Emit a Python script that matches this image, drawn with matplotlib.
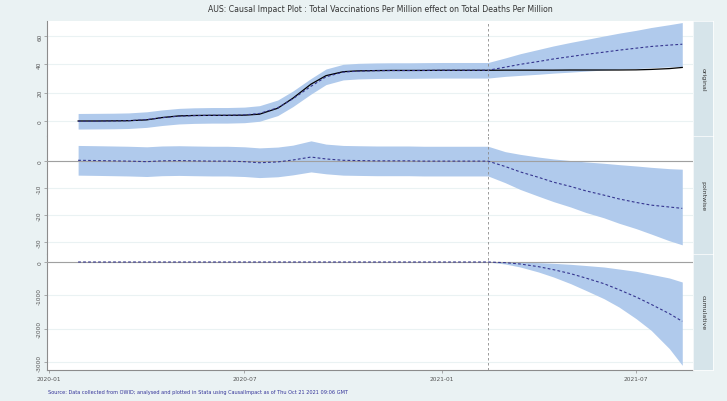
#!/usr/bin/env python

import numpy as np
import pandas as pd
import matplotlib
matplotlib.use('Agg')
from matplotlib import pyplot as plt
import matplotlib.dates as mdates

# semi-monthly points
dates = ['2020-01-28', '2020-02-15', '2020-03-01', '2020-03-15', '2020-04-01', '2020-04-15',
         '2020-05-01', '2020-05-15', '2020-06-01', '2020-06-15', '2020-07-01', '2020-07-15',
         '2020-08-01', '2020-08-15', '2020-09-01', '2020-09-15', '2020-10-01', '2020-10-15',
         '2020-11-01', '2020-11-15', '2020-12-01', '2020-12-15', '2021-01-01', '2021-01-15',
         '2021-02-01', '2021-02-13', '2021-03-01', '2021-03-15', '2021-04-01', '2021-04-15',
         '2021-05-01', '2021-05-15', '2021-06-01', '2021-06-15', '2021-07-01', '2021-07-15',
         '2021-08-01', '2021-08-13']
intervention = '2021-02-13'

# original: total deaths per million
actual = [0.0, 0.0, 0.1, 0.2, 0.8, 2.4, 3.6, 3.9, 4.0, 4.0, 4.1, 4.8,
          9.0, 16.0, 26.0, 32.0, 34.8, 35.4, 35.6, 35.7, 35.7, 35.7, 35.8, 35.8,
          35.8, 35.8, 35.9, 35.9, 35.9, 35.9, 36.0, 36.0, 36.0, 36.0, 36.1, 36.4,
          37.0, 37.8]
predicted = [-0.2, -0.1, 0.0, 0.2, 1.0, 2.3, 3.4, 3.8, 4.0, 4.0, 4.3, 5.3,
             9.3, 15.6, 24.5, 31.2, 34.5, 35.2, 35.5, 35.6, 35.6, 35.7, 35.8, 35.8,
             35.8, 35.8, 38.0, 40.0, 42.0, 43.8, 45.5, 47.0, 48.6, 50.0, 51.4, 52.6,
             53.6, 54.2]
pred_upper = [5.3, 5.4, 5.5, 5.7, 6.5, 7.8, 8.9, 9.3, 9.5, 9.5, 9.8, 10.8,
              14.8, 21.1, 30.0, 36.7, 40.0, 40.7, 41.0, 41.1, 41.1, 41.2, 41.3, 41.3,
              41.3, 41.3, 44.5, 47.5, 50.5, 53.0, 55.5, 57.5, 60.0, 62.0, 64.0, 66.0,
              68.0, 69.5]
pred_lower = [-5.7, -5.6, -5.5, -5.3, -4.5, -3.2, -2.1, -1.7, -1.5, -1.5, -1.2, -0.2,
              3.8, 10.1, 19.0, 25.7, 29.0, 29.7, 30.0, 30.1, 30.1, 30.2, 30.3, 30.3,
              30.3, 30.3, 31.5, 32.2, 33.0, 33.8, 34.5, 35.2, 36.0, 36.5, 37.0, 37.6,
              38.2, 38.5]

# pointwise effect
point = [0.3, 0.2, 0.1, 0.0, -0.2, 0.1, 0.2, 0.1, 0.0, 0.0, -0.2, -0.6,
         -0.3, 0.4, 1.5, 0.8, 0.3, 0.2, 0.1, 0.1, 0.1, 0.0, 0.0, 0.0,
         0.0, 0.0, -2.0, -4.0, -6.0, -7.8, -9.4, -11.0, -12.6, -14.0, -15.3, -16.3,
         -17.0, -17.5]
point_upper = [5.8, 5.7, 5.6, 5.5, 5.3, 5.6, 5.7, 5.6, 5.5, 5.5, 5.3, 4.9,
               5.2, 5.9, 7.5, 6.3, 5.8, 5.7, 5.6, 5.6, 5.6, 5.5, 5.5, 5.5,
               5.5, 5.5, 3.5, 2.5, 1.5, 0.8, 0.2, -0.3, -0.8, -1.3, -1.8, -2.3,
               -2.8, -3.0]
point_lower = [-5.2, -5.3, -5.4, -5.5, -5.7, -5.4, -5.3, -5.4, -5.5, -5.5, -5.7, -6.1,
               -5.8, -5.1, -4.0, -4.7, -5.2, -5.3, -5.4, -5.4, -5.4, -5.5, -5.5, -5.5,
               -5.5, -5.5, -8.0, -10.5, -13.0, -15.0, -17.0, -19.0, -21.0, -23.0, -25.0, -27.0,
               -29.5, -31.0]

# cumulative effect
cum = [0] * 26 + [-20, -60, -140, -230, -350, -480, -650, -830, -1050, -1270, -1550, -1780]
cum_upper = [0] * 26 + [0, -5, -20, -40, -70, -105, -150, -210, -280, -370, -480, -600]
cum_lower = [0] * 26 + [-60, -150, -300, -450, -650, -850, -1100, -1350, -1700, -2050, -2600, -3100]

yticks_orig = [0, 20, 40, 60]
yticks_point = [0, -10, -20, -30]
yticks_cum = [0, -1000, -2000, -3000]
xtick_labels = ['2020-01', '2020-07', '2021-01', '2021-07']

title = 'AUS: Causal Impact Plot : Total Vaccinations Per Million effect on Total Deaths Per Million'
note = ('Source: Data collected from OWID; analysed and plotted in Stata using CausalImpact '
        'as of Thu Oct 21 2021 09:06 GMT')

bg = '#EAF2F3'
band = '#B0CAEC'
navy = '#35358F'
axcol = '#8C8C8C'

x = pd.to_datetime(dates)
t0 = pd.Timestamp(intervention)

fig = plt.figure(figsize=(7.27, 4.02), dpi=100, facecolor=bg)
left, right = 47 / 727, 693 / 727
tops = [22, 137, 255]
bots = [137, 255, 371]

panels = [
    ('original', actual, predicted, pred_upper, pred_lower, yticks_orig, (-10.6, 70.6)),
    ('pointwise', None, point, point_upper, point_lower, yticks_point, (-34.4, 9.3)),
    ('cumulative', None, cum, cum_upper, cum_lower, yticks_cum, (-3240, 240)),
]

axes = []
for i, (name, act, mid, up, lo, yt, ylim) in enumerate(panels):
    b = 1 - bots[i] / 402
    h = (bots[i] - tops[i]) / 402
    ax = fig.add_axes([left, b, right - left, h], facecolor='white')
    ax.fill_between(x, lo, up, color=band, lw=0, zorder=2)
    for v in yt:
        ax.axhline(v, color=bg, lw=0.8, zorder=1)
    if act is not None:
        ax.plot(x, act, color='black', lw=0.9, zorder=4)
    else:
        ax.axhline(0, color='#A0A0A0', lw=0.8, zorder=3)
    ax.plot(x, mid, color=navy, lw=0.8, ls=(0, (2.5, 2)), zorder=5)
    ax.axvline(t0, color='#8A8A8A', lw=0.6, ls=(0, (3, 3)), zorder=6)
    ax.set_ylim(*ylim)
    ax.set_yticks(yt)
    ax.set_yticklabels([str(v) for v in yt], rotation=90, va='center', fontsize=4.2, color='#555555')
    ax.tick_params(axis='y', length=2, width=0.5, color=axcol, pad=1.5)
    ax.set_xlim(pd.Timestamp('2019-12-30'), pd.Timestamp('2021-08-23'))
    for s in ['top', 'right']:
        ax.spines[s].set_visible(False)
    ax.spines['left'].set_color(axcol)
    ax.spines['left'].set_linewidth(0.8)
    ax.spines['bottom'].set_color('#DDDDDD')
    ax.spines['bottom'].set_linewidth(0.5)
    # strip label on the right
    sax = fig.add_axes([right, b, 20 / 727, h], facecolor='#D6E4EA')
    sax.set_xticks([])
    sax.set_yticks([])
    for s in sax.spines.values():
        s.set_color('white')
        s.set_linewidth(0.5)
    sax.text(0.5, 0.5, name, rotation=270, ha='center', va='center', fontsize=4.5,
             color='#333333', transform=sax.transAxes)
    axes.append(ax)

for ax in axes[:-1]:
    ax.set_xticks([])
last = axes[-1]
last.spines['bottom'].set_color(axcol)
last.spines['bottom'].set_linewidth(0.8)
last.set_xticks(pd.to_datetime(xtick_labels))
last.xaxis.set_major_formatter(mdates.DateFormatter('%Y-%m'))
last.tick_params(axis='x', length=2, width=0.5, color=axcol, labelsize=4.2, labelcolor='#555555', pad=2)

fig.text(0.523, 1 - 10 / 402, title, ha='center', va='center', fontsize=5.6, color='#333333')
fig.text(48 / 727, 1 - 393 / 402, note, ha='left', va='center', fontsize=3.6, color='#333399')

fig.savefig('out.png', dpi=100, facecolor=bg)
